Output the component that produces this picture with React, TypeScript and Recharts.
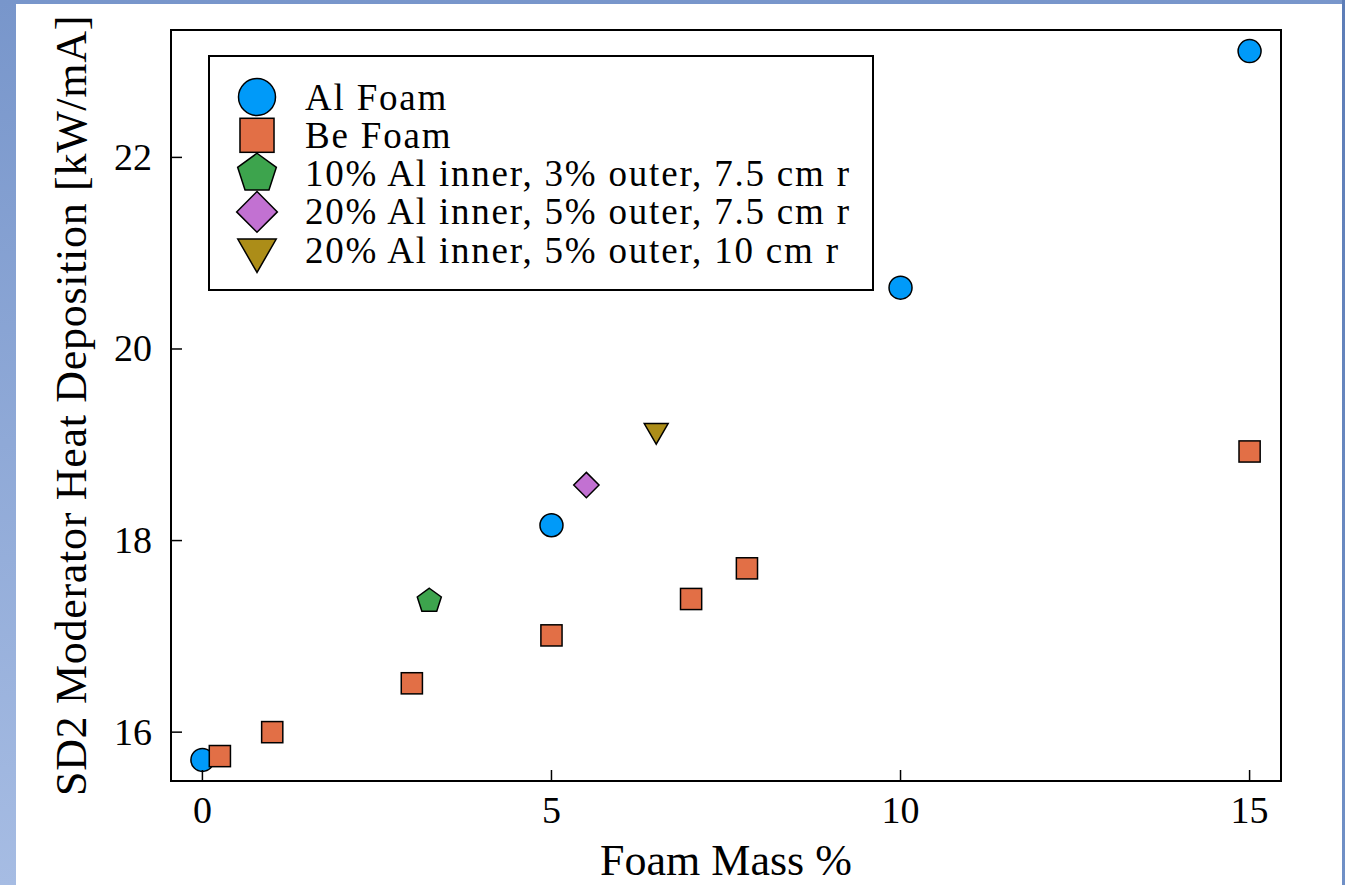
import React from "react";
import { ScatterChart, Scatter, XAxis, YAxis, ReferenceArea, Legend } from "recharts";

// values
const alFoamX = [0, 5, 10, 15];
const alFoamY = [15.71, 18.16, 20.64, 23.11];
const beFoamX = [0.25, 1, 3, 5, 7, 7.8, 15];
const beFoamY = [15.75, 16.0, 16.51, 17.01, 17.39, 17.71, 18.93];
const mix10x3X = [3.25];
const mix10x3Y = [17.37];
const mix20x5X = [5.5];
const mix20x5Y = [18.58];
const mix20x5wideX = [6.5];
const mix20x5wideY = [19.15];

const seriesNames = [
  "Al Foam",
  "Be Foam",
  "10% Al inner, 3% outer, 7.5 cm r",
  "20% Al inner, 5% outer, 7.5 cm r",
  "20% Al inner, 5% outer, 10 cm r",
];
const seriesColors = ["#009AF9", "#E26F46", "#3DA44D", "#C271D2", "#AC8D18"];
const seriesShapes = ["circle", "square", "pentagon", "diamond", "dtriangle"];

const xTicks = [0, 5, 10, 15];
const yTicks = [16, 18, 20, 22];
const xDomain = [-0.45, 15.45];
const yDomain = [15.49, 23.33];

const FONT = "'Liberation Serif', 'Times New Roman', serif";

const toPoints = (xs: number[], ys: number[]) => xs.map((x, i) => ({ x, y: ys[i] }));

const seriesData = [
  toPoints(alFoamX, alFoamY),
  toPoints(beFoamX, beFoamY),
  toPoints(mix10x3X, mix10x3Y),
  toPoints(mix20x5X, mix20x5Y),
  toPoints(mix20x5wideX, mix20x5wideY),
];

const polygon = (cx: number, cy: number, r: number, n: number, start: number) =>
  Array.from({ length: n }, (_, k) => {
    const a = ((start + (360 / n) * k) * Math.PI) / 180;
    return `${cx + r * Math.cos(a)},${cy + r * Math.sin(a)}`;
  }).join(" ");

function marker(shape: string, cx: number, cy: number, s: number, color: string, key?: string) {
  const common = { fill: color, stroke: "#000", strokeWidth: 1.5, strokeLinejoin: "miter" as const };
  if (shape === "circle") return <circle key={key} cx={cx} cy={cy} r={s} {...common} />;
  if (shape === "square") {
    const h = s * 0.92;
    return <rect key={key} x={cx - h} y={cy - h} width={2 * h} height={2 * h} {...common} />;
  }
  if (shape === "pentagon") return <polygon key={key} points={polygon(cx, cy, s * 1.1, 5, -90)} {...common} />;
  if (shape === "diamond") return <polygon key={key} points={polygon(cx, cy, s * 1.1, 4, -90)} {...common} />;
  return <polygon key={key} points={polygon(cx, cy, s * 1.2, 3, 90)} {...common} />;
}

const XTick = ({ x, y, payload }: any) => (
  <g>
    <line x1={x} x2={x} y1={y} y2={y - 11} stroke="#000" strokeWidth={1.5} />
    <text x={x} y={y + 42} textAnchor="middle" fontFamily={FONT} fontSize={38} fill="#000">
      {payload.value}
    </text>
  </g>
);

const YTick = ({ x, y, payload }: any) => (
  <g>
    <line x1={x} x2={x + 11} y1={y} y2={y} stroke="#000" strokeWidth={1.5} />
    <text x={x - 19} y={y + 12.5} textAnchor="end" fontFamily={FONT} fontSize={38} fill="#000">
      {payload.value}
    </text>
  </g>
);

const XLabel = ({ viewBox }: any) => (
  <text
    x={viewBox.x + viewBox.width / 2}
    y={viewBox.y + 94}
    textAnchor="middle"
    fontFamily={FONT}
    fontSize={44}
    fill="#000"
  >
    Foam Mass %
  </text>
);

const YLabel = ({ viewBox }: any) => {
  const lx = viewBox.x + 35;
  const ly = viewBox.y + viewBox.height / 2;
  return (
    <text
      x={lx}
      y={ly}
      transform={`rotate(-90, ${lx}, ${ly})`}
      textAnchor="middle"
      fontFamily={FONT}
      fontSize={44}
      letterSpacing={0.7}
      fill="#000"
    >
      SD2 Moderator Heat Deposition [kW/mA]
    </text>
  );
};

const LegendBox = () => (
  <div
    style={{
      width: 666,
      height: 236,
      boxSizing: "border-box",
      border: "2px solid #000",
      background: "#fff",
    }}
  >
    <svg width={662} height={232} style={{ display: "block" }}>
      {seriesNames.map((name, i) => {
        const cy = 40 + 38.3 * i;
        return (
          <g key={name}>
            {marker(seriesShapes[i], 47, cy, 18.5, seriesColors[i])}
            <text x={95} y={cy + 12.5} fontFamily={FONT} fontSize={37} letterSpacing={1.8} fill="#000">
              {name}
            </text>
          </g>
        );
      })}
    </svg>
  </div>
);

export default function App() {
  return (
    <div
      style={{
        position: "fixed",
        left: 0,
        top: 0,
        width: 1345,
        height: 885,
        background: "linear-gradient(to bottom, #7896cb, #a6bce3)",
        overflow: "hidden",
      }}
    >
      <div style={{ position: "absolute", left: 1342, top: 0, width: 3, height: 885, background: "linear-gradient(to bottom, #5d7db7, #7090c6)" }} />
      <div style={{ position: "absolute", left: 16, top: 4, width: 1326, height: 881, background: "#fff" }} />
      <div style={{ position: "absolute", left: 0, top: 0 }}>
        <ScatterChart width={1345} height={885} margin={{ top: 30, right: 64, bottom: 44, left: 51 }}>
          <XAxis
            type="number"
            dataKey="x"
            domain={xDomain}
            ticks={xTicks}
            interval={0}
            allowDataOverflow
            height={60}
            axisLine={false}
            tickLine={false}
            tickSize={0}
            tickMargin={0}
            tick={<XTick />}
            label={XLabel}
          />
          <YAxis
            type="number"
            dataKey="y"
            domain={yDomain}
            ticks={yTicks}
            interval={0}
            allowDataOverflow
            width={120}
            axisLine={false}
            tickLine={false}
            tickSize={0}
            tickMargin={0}
            tick={<YTick />}
            label={YLabel}
          />
          <ReferenceArea
            x1={xDomain[0]}
            x2={xDomain[1]}
            y1={yDomain[0]}
            y2={yDomain[1]}
            fill="none"
            stroke="#000"
            strokeWidth={2}
            ifOverflow="visible"
          />
          {seriesData.map((data, i) => (
            <Scatter
              key={seriesNames[i]}
              name={seriesNames[i]}
              data={data}
              fill={seriesColors[i]}
              isAnimationActive={false}
              shape={(p: any) => marker(seriesShapes[i], p.cx, p.cy, 11.5, seriesColors[i])}
            />
          ))}
          <Legend
            layout="horizontal"
            verticalAlign="middle"
            align="center"
            wrapperStyle={{ position: "absolute", left: 208, top: 55, width: 666, height: 236 }}
            content={() => <LegendBox />}
          />
        </ScatterChart>
      </div>
    </div>
  );
}
